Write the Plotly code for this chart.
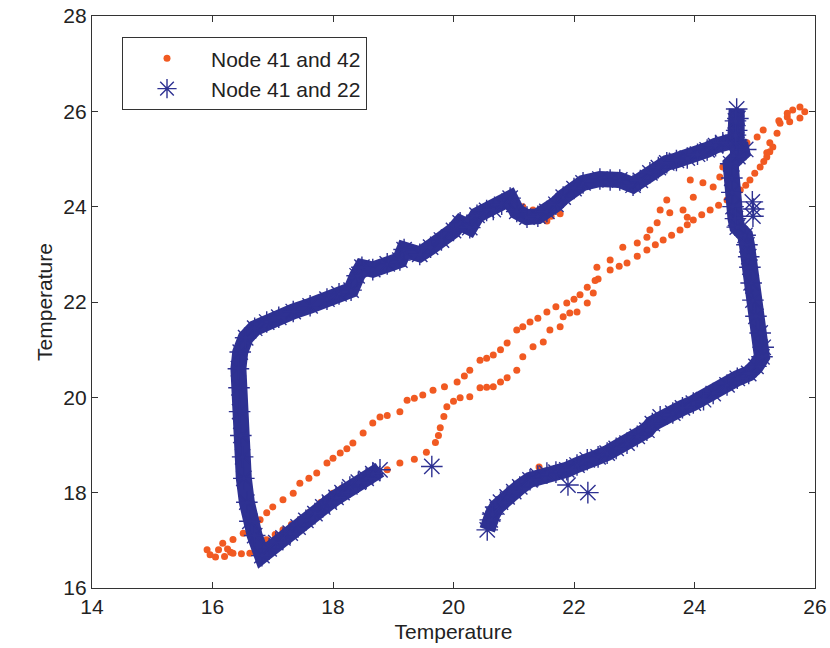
import plotly.graph_objects as go

# Node 41 and 42 (orange dots)
upper_x = [15.91, 16.17, 16.34, 16.51, 16.65, 16.79, 16.90, 17.00, 17.17, 17.34, 17.45, 17.60, 17.73,
           17.90, 18.00, 18.12, 18.23, 18.33, 18.50, 18.66, 18.78, 18.90, 19.11, 19.23, 19.35, 19.49,
           19.66, 19.85, 20.06, 20.18, 20.27, 20.44, 20.55, 20.66, 20.78, 20.89, 21.05, 21.15, 21.27,
           21.40, 21.55, 21.70, 21.88, 22.00, 22.10, 22.22, 22.40, 22.60, 22.75, 22.88, 23.05, 23.21,
           23.35, 23.48, 23.62, 23.76, 23.88, 23.98, 24.12, 24.26, 24.40, 24.54, 24.65, 24.76, 24.85,
           24.92, 25.00, 25.09, 25.15, 25.20, 25.25, 25.30, 25.37, 25.42, 25.54, 25.63, 25.75, 25.83,
           25.75, 25.58]
upper_y = [16.80, 16.94, 17.02, 17.15, 17.30, 17.43, 17.58, 17.70, 17.85, 17.99, 18.20, 18.30, 18.41,
           18.62, 18.72, 18.83, 18.92, 19.04, 19.25, 19.46, 19.59, 19.62, 19.70, 19.94, 19.98, 20.05,
           20.15, 20.22, 20.32, 20.45, 20.57, 20.78, 20.82, 20.89, 21.00, 21.14, 21.41, 21.48, 21.58,
           21.66, 21.79, 21.90, 21.98, 22.06, 22.15, 22.31, 22.48, 22.67, 22.75, 22.82, 22.96, 23.09,
           23.20, 23.30, 23.40, 23.51, 23.62, 23.72, 23.83, 23.93, 24.03, 24.14, 24.24, 24.35, 24.45,
           24.56, 24.70, 24.83, 24.95, 25.04, 25.15, 25.25, 25.54, 25.75, 25.88, 26.03, 26.09, 25.99,
           25.86, 25.78]

lower_x = [15.96, 16.05, 16.20, 16.30, 16.25, 16.10, 16.34, 16.48, 16.62, 16.76, 16.90, 17.04, 17.17,
           17.31, 17.45, 17.60, 17.80, 18.00, 18.15, 18.30, 18.45, 18.60, 18.75, 18.90, 19.11, 19.35,
           19.55, 19.70, 19.75, 19.78, 19.84, 19.89, 20.00, 20.11, 20.27, 20.44, 20.55, 20.66, 20.78,
           20.89, 21.05, 21.15, 21.32, 21.49, 21.60, 21.77, 21.82, 21.93, 22.05, 22.22, 22.32, 22.35,
           22.38, 22.60, 22.81, 23.05, 23.21, 23.26, 23.38, 23.43, 23.54, 23.59, 23.81, 23.88, 23.98,
           23.93, 24.14, 24.31, 24.42, 24.47, 24.60, 24.71, 24.87, 25.04, 25.14, 25.25, 25.20, 25.40,
           25.54]
lower_y = [16.70, 16.65, 16.66, 16.75, 16.82, 16.80, 16.73, 16.72, 16.73, 16.86, 17.01, 17.12, 17.22,
           17.33, 17.43, 17.58, 17.80, 17.99, 18.10, 18.20, 18.30, 18.38, 18.44, 18.48, 18.62, 18.70,
           18.85, 19.05, 19.20, 19.36, 19.60, 19.80, 19.92, 19.99, 20.01, 20.20, 20.21, 20.22, 20.32,
           20.41, 20.57, 20.85, 21.06, 21.16, 21.41, 21.48, 21.69, 21.77, 21.79, 21.98, 22.19, 22.45,
           22.73, 22.88, 23.15, 23.24, 23.36, 23.51, 23.66, 23.93, 24.14, 23.87, 23.93, 23.78, 24.20,
           24.56, 24.50, 24.41, 24.62, 24.83, 24.95, 25.04, 25.34, 25.46, 25.61, 25.34, 25.13, 25.80,
           25.96]

extra_x = [21.15, 21.32, 21.55, 21.62, 21.77, 21.42]
extra_y = [24.00, 23.93, 23.70, 23.80, 23.85, 18.54]

# Node 41 and 22 (blue asterisks), path in order
blue_x = [18.78, 18.66, 18.55, 18.42, 18.28, 18.15, 18.05, 17.94, 17.83, 17.70, 17.55, 17.42, 17.29,
          17.17, 17.05, 16.94, 16.82, 16.70, 16.62, 16.57, 16.52, 16.50, 16.47, 16.45, 16.44, 16.43,
          16.46, 16.55, 16.70, 16.90, 17.10, 17.34, 17.62, 17.90, 18.10, 18.30, 18.40, 18.48, 18.66,
          18.90, 19.11, 19.18, 19.44, 19.62, 19.80, 20.00, 20.11, 20.27, 20.39, 20.55, 20.66, 20.80,
          20.94, 21.05, 21.22, 21.40, 21.55, 21.70, 21.82, 22.00, 22.15, 22.43, 22.60, 22.76, 22.98,
          23.10, 23.26, 23.40, 23.54, 23.70, 23.88, 24.05, 24.21, 24.35, 24.47, 24.60, 24.70, 24.70,
          24.72, 24.70, 24.68, 24.68, 24.72, 24.85, 24.72, 24.60, 24.62, 24.62, 24.64, 24.68, 24.71,
          24.84, 24.87, 24.90, 24.92, 24.94, 24.97, 25.02, 25.09, 25.14, 25.12, 25.02, 24.90, 24.71,
          24.54, 24.31, 24.15, 23.98, 23.80, 23.64, 23.43, 23.30, 23.21, 23.05, 22.88, 22.70, 22.55,
          22.40, 22.22, 22.05, 21.88, 21.70, 21.55, 21.40, 21.27, 21.10, 21.00, 20.89, 20.78, 20.72,
          20.65, 20.61, 20.56]
blue_y = [18.48, 18.40, 18.30, 18.22, 18.12, 18.00, 17.90, 17.80, 17.70, 17.56, 17.42, 17.28, 17.15,
          17.05, 16.95, 16.82, 16.68, 17.10, 17.40, 17.80, 18.30, 18.75, 19.20, 19.70, 20.20, 20.60,
          20.95, 21.25, 21.45, 21.58, 21.68, 21.80, 21.92, 22.06, 22.17, 22.25, 22.55, 22.73, 22.68,
          22.80, 22.88, 23.10, 23.00, 23.15, 23.30, 23.50, 23.66, 23.56, 23.82, 23.92, 23.94, 24.05,
          24.18, 23.90, 23.78, 23.80, 23.90, 24.05, 24.20, 24.38, 24.50, 24.58, 24.56, 24.56, 24.45,
          24.55, 24.71, 24.82, 24.92, 24.97, 25.02, 25.10, 25.19, 25.28, 25.34, 25.35, 25.40, 25.60,
          25.85, 26.05, 25.80, 25.50, 25.25, 25.20, 25.05, 24.90, 24.60, 24.30, 24.00, 23.75, 23.57,
          23.40, 23.20, 22.95, 22.73, 22.40, 22.04, 21.70, 21.35, 21.05, 20.85, 20.65, 20.50, 20.40,
          20.26, 20.08, 19.95, 19.88, 19.78, 19.67, 19.59, 19.45, 19.31, 19.18, 19.04, 18.93, 18.83,
          18.75, 18.69, 18.58, 18.48, 18.43, 18.41, 18.35, 18.27, 18.12, 18.02, 17.91, 17.80, 17.70,
          17.55, 17.43, 17.22]

# stray blue asterisks
stray_x = [19.64, 21.90, 22.23, 24.96, 24.98, 24.97]
stray_y = [18.55, 18.16, 18.00, 24.10, 23.95, 23.80]

orange = "#F15A22"
blue = "#2E3192"

fig = go.Figure()

fig.add_trace(go.Scatter(
    x=upper_x + lower_x + extra_x, y=upper_y + lower_y + extra_y,
    mode="markers", name="Node 41 and 42",
    marker=dict(color=orange, size=7, symbol="circle")))

# thick band under the asterisks
fig.add_trace(go.Scatter(
    x=blue_x, y=blue_y, mode="lines", showlegend=False, hoverinfo="skip",
    line=dict(color=blue, width=16)))

fig.add_trace(go.Scatter(
    x=blue_x + stray_x, y=blue_y + stray_y,
    mode="markers", name="Node 41 and 22",
    marker=dict(color=blue, size=18, symbol="asterisk-open",
                line=dict(color=blue, width=1.4))))

axis_style = dict(
    showline=True, linecolor="#333", linewidth=1.2, mirror="ticks",
    ticks="inside", ticklen=6, tickcolor="#333", showgrid=False, zeroline=False,
    tickfont=dict(size=21, color="#222"),
    title_font=dict(size=21, color="#222"),
    ticklabeloverflow="allow", automargin=False,
)

fig.update_xaxes(range=[14, 26], dtick=2, title_text="Temperature",
                 title_standoff=7, **axis_style)
fig.update_yaxes(range=[16, 28], dtick=2, title_text="Temperature",
                 title_standoff=4, **axis_style)

fig.update_layout(
    width=830, height=648,
    margin=dict(l=92, r=15, t=16, b=60),
    paper_bgcolor="white", plot_bgcolor="white",
    font=dict(family="Liberation Sans, Arial, sans-serif", color="#222"),
    legend=dict(x=0.0415, y=0.963, xanchor="left", yanchor="top",
                bordercolor="#333", borderwidth=1, bgcolor="white",
                font=dict(size=21), itemwidth=78, tracegroupgap=0),
)

# drop the page's default body margin so the figure sits at the top-left corner
fig.write_html("out.html", config={"displayModeBar": False},
               post_script="document.body.style.margin = '0';")
